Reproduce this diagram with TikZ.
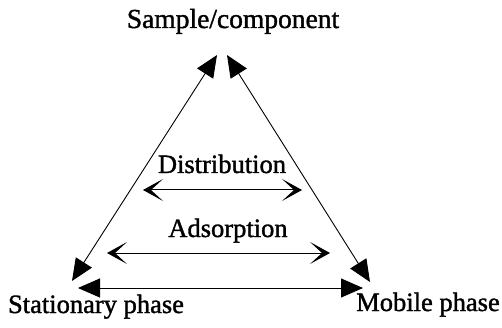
\documentclass[tikz,border=0pt]{standalone}
\usepackage{fontspec}
\setmainfont[FakeBold=1.3]{Liberation Serif}
\usetikzlibrary{arrows.meta}
\begin{document}
\begin{tikzpicture}[x=1pt,y=-1pt,
  lbl/.style={anchor=base,inner sep=0pt,font=\fontsize{26.5}{30}\selectfont},
  bitri/.style={line width=0.9pt,{Triangle[length=22pt,width=19pt]}-{Triangle[length=22pt,width=19pt]}},
  barb/.style={line width=1pt,{Stealth[length=20pt,width=22pt,inset=12pt]}-{Stealth[length=20pt,width=22pt,inset=12pt]}}]
\useasboundingbox (0,0) rectangle (502,328);
\fill[white] (0,0) rectangle (502,328);
% labels
\node[lbl,font=\fontsize{27.5}{30}\selectfont] (sample) at (233,28) {Sample/component};
\node[lbl] (stat) at (96,313) {Stationary phase};
\node[lbl] (mob) at (428,311) {Mobile phase};
\node[lbl] (dist) at (222,173) {Distribution};
\node[lbl] (ads) at (228,237) {Adsorption};
% arrow end points
\coordinate (tl) at (217,55);
\coordinate (tr) at (227,55);
\coordinate (bl) at (72,281);
\coordinate (br) at (370,282);
\coordinate (hl) at (78,288);
\coordinate (hr) at (363,288);
\coordinate (dl) at (143,190);
\coordinate (dr) at (302,190);
\coordinate (al) at (107,253);
\coordinate (ar) at (330,253);
% triangle sides
\draw[bitri] (bl) -- (tl);
\draw[bitri] (br) -- (tr);
\draw[bitri] (hl) -- (hr);
% inner arrows
\draw[barb] (dl) -- (dr);
\draw[barb] (al) -- (ar);
\end{tikzpicture}
\end{document}
